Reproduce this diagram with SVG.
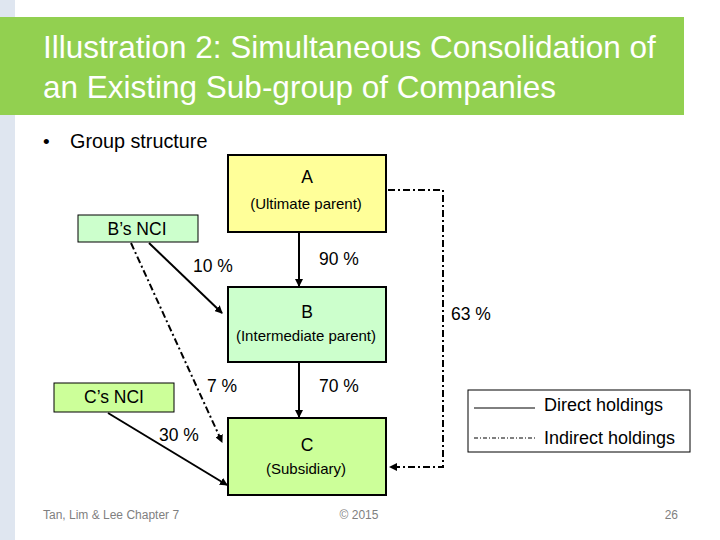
<svg xmlns="http://www.w3.org/2000/svg" width="720" height="540" viewBox="0 0 720 540">
<style>
text{font-family:"Liberation Sans",Arial,sans-serif;fill:#000}
.box{stroke:#000;stroke-width:2}
.t1{font-size:17.5px;text-anchor:middle}
.t2{font-size:15px;text-anchor:middle}
.pct{font-size:17.5px}
.solid{stroke:#000;stroke-width:2;fill:none}
.dash{stroke:#000;stroke-width:2;fill:none;stroke-dasharray:7,3,2,3}
.foot{font-size:12px;fill:#7f7f7f}
</style>
<defs>
<marker id="ah" markerWidth="8" markerHeight="8" refX="7" refY="4" orient="auto" markerUnits="userSpaceOnUse">
<path d="M0,0 L8,4 L0,8 z" fill="#000"/>
</marker>
</defs>
<rect x="0" y="0" width="720" height="540" fill="#fff"/>
<rect x="0" y="0" width="15" height="540" fill="#dfe6f0"/>
<rect x="0" y="17" width="684" height="98" fill="#92d050"/>
<text x="43" y="58" style="font-size:31.5px;fill:#fff">Illustration 2: Simultaneous Consolidation of</text>
<text x="43" y="98" style="font-size:31.5px;fill:#fff">an Existing Sub-group of Companies</text>
<text x="43" y="148" style="font-size:19px">•</text>
<text x="70" y="148" style="font-size:19.8px">Group structure</text>

<g id="connectors">
<line class="solid" x1="299" y1="232" x2="299" y2="286" marker-end="url(#ah)"/>
<line class="solid" x1="149" y1="243" x2="222" y2="313" marker-end="url(#ah)"/>
<line class="dash" x1="131" y1="243" x2="222" y2="442" marker-end="url(#ah)"/>
<line class="solid" x1="299" y1="362" x2="299" y2="417" marker-end="url(#ah)"/>
<line class="solid" x1="108" y1="413" x2="227" y2="485" marker-end="url(#ah)"/>
<polyline class="dash" points="388,190 443,190 443,467 390,467" marker-end="url(#ah)"/>
</g>

<g id="nodeA">
<rect class="box" x="228" y="155" width="158" height="77" fill="#ffff99"/>
<text class="t1" x="307" y="183">A</text>
<text class="t2" x="306" y="209">(Ultimate parent)</text>
</g>
<g id="nodeBNCI">
<rect x="78" y="215" width="120" height="27" fill="#ccffcc" stroke="#000" stroke-width="1"/>
<text class="t1" x="137" y="235">B’s NCI</text>
</g>
<g id="nodeB">
<rect class="box" x="228" y="287" width="158" height="75" fill="#ccffcc"/>
<text class="t1" x="307" y="318">B</text>
<text class="t2" x="306" y="341">(Intermediate parent)</text>
</g>
<g id="nodeCNCI">
<rect x="54" y="383" width="120" height="29" fill="#ccff99" stroke="#000" stroke-width="1"/>
<text class="t1" x="114" y="403">C’s NCI</text>
</g>
<g id="nodeC">
<rect class="box" x="228" y="418" width="158" height="77" fill="#ccff99"/>
<text class="t1" x="307" y="451">C</text>
<text class="t2" x="306" y="474">(Subsidiary)</text>
</g>

<g id="labels">
<text class="pct" x="319" y="265">90 %</text>
<text class="pct" x="193" y="272">10 %</text>
<text class="pct" x="451" y="320">63 %</text>
<text class="pct" x="207" y="392">7 %</text>
<text class="pct" x="319" y="392">70 %</text>
<text class="pct" x="159" y="441">30 %</text>
</g>

<g id="legend">
<rect x="468" y="390" width="222" height="62" fill="#fff" stroke="#000" stroke-width="1"/>
<line x1="474" y1="408" x2="535" y2="408" stroke="#000" stroke-width="1"/>
<line x1="474" y1="438" x2="535" y2="438" stroke="#000" stroke-width="1" stroke-dasharray="4,2,1,2"/>
<text x="544" y="411" style="font-size:18px">Direct holdings</text>
<text x="544" y="444" style="font-size:18px">Indirect holdings</text>
</g>

<text class="foot" x="43" y="519">Tan, Lim &amp; Lee Chapter 7</text>
<text class="foot" x="359" y="519" text-anchor="middle">© 2015</text>
<text class="foot" x="678" y="519" text-anchor="end">26</text>
</svg>
